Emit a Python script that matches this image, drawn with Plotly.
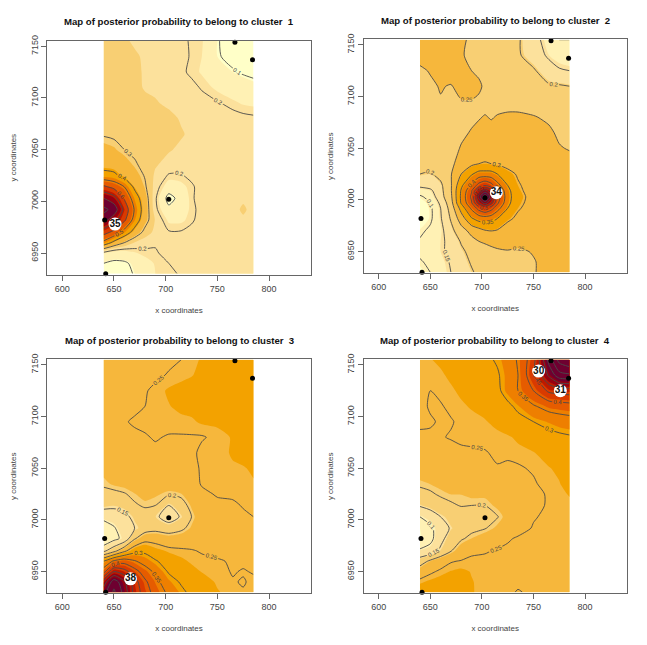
import plotly.graph_objects as go

# Grid nodes of the posterior probability maps
x_nodes = [640, 650, 660, 670, 680, 690, 703, 715, 725, 735, 750, 765, 775, 785]
y_nodes = [6930, 6940, 6950, 6960, 6970, 6982, 6992, 7003, 7014, 7025, 7035,
           7050, 7065, 7080, 7095, 7110, 7125, 7140, 7155]
# Cluster 2 has a sharp peak, so it gets extra nodes around it
x_nodes_2 = [640, 650, 660, 670, 680, 690, 697, 703, 709, 715, 725, 735, 750, 765, 775, 785]
y_nodes_2 = [6930, 6940, 6950, 6960, 6970, 6982, 6992, 6997, 7003, 7009, 7014, 7025,
             7035, 7050, 7065, 7080, 7095, 7110, 7125, 7140, 7155]

prob_1 = [
    [.06, .06, .08, .105, .14, .175, .19, .205, .215, .22, .225, .23, .23, .23],
    [.10, .085, .09, .115, .15, .18, .20, .215, .22, .225, .23, .23, .23, .23],
    [.18, .14, .14, .17, .19, .195, .215, .225, .225, .23, .23, .235, .23, .23],
    [.47, .37, .30, .24, .215, .205, .215, .22, .225, .23, .235, .24, .24, .235],
    [.64, .57, .46, .36, .275, .23, .205, .205, .22, .23, .235, .235, .24, .235],
    [.84, .74, .62, .46, .335, .24, .165, .165, .19, .225, .235, .235, .24, .235],
    [.93, .86, .67, .49, .35, .215, .12, .145, .185, .22, .235, .235, .25, .235],
    [.80, .74, .59, .45, .34, .21, .07, .13, .19, .23, .235, .235, .24, .235],
    [.62, .57, .50, .38, .31, .225, .145, .16, .19, .225, .235, .235, .235, .235],
    [.43, .42, .37, .335, .295, .235, .195, .195, .215, .23, .235, .235, .235, .235],
    [.37, .36, .34, .31, .28, .25, .225, .22, .225, .23, .235, .235, .235, .235],
    [.33, .32, .30, .285, .265, .26, .25, .235, .23, .23, .23, .23, .23, .23],
    [.295, .29, .285, .28, .275, .27, .265, .25, .235, .225, .225, .225, .225, .22],
    [.29, .285, .28, .275, .27, .265, .26, .24, .23, .225, .22, .22, .215, .21],
    [.285, .28, .275, .27, .26, .25, .235, .23, .225, .22, .205, .185, .17, .165],
    [.28, .275, .27, .26, .24, .235, .23, .225, .215, .195, .165, .14, .125, .115],
    [.28, .275, .27, .255, .24, .235, .23, .21, .19, .17, .135, .105, .095, .09],
    [.28, .275, .26, .25, .24, .235, .23, .215, .195, .175, .105, .085, .075, .07],
    [.27, .26, .25, .24, .235, .23, .225, .21, .195, .18, .105, .07, .06, .06],
]

prob_2 = [
    [.07, .10, .125, .15, .175, .195, .21, .22, .225, .23, .235, .24, .248, .26, .255, .26],
    [.095, .11, .13, .155, .18, .205, .215, .225, .23, .235, .24, .245, .248, .26, .265, .26],
    [.11, .12, .14, .165, .19, .215, .225, .235, .24, .245, .248, .245, .252, .265, .27, .27],
    [.105, .125, .14, .165, .205, .235, .25, .255, .26, .262, .262, .26, .265, .27, .275, .275],
    [.09, .11, .135, .185, .23, .265, .28, .295, .30, .295, .275, .275, .27, .27, .27, .27],
    [.05, .09, .145, .205, .275, .345, .37, .375, .37, .35, .31, .29, .275, .27, .27, .27],
    [.055, .09, .15, .22, .32, .41, .47, .50, .47, .42, .35, .305, .28, .275, .27, .27],
    [.06, .10, .16, .23, .355, .445, .56, .62, .56, .46, .365, .31, .285, .275, .27, .265],
    [.09, .12, .18, .24, .36, .46, .62, .75, .62, .48, .37, .315, .285, .275, .27, .265],
    [.13, .14, .185, .245, .355, .445, .56, .62, .56, .46, .365, .31, .28, .275, .27, .265],
    [.16, .17, .19, .245, .34, .41, .47, .50, .47, .42, .35, .305, .28, .27, .27, .265],
    [.20, .195, .215, .247, .30, .345, .37, .37, .37, .35, .315, .295, .275, .27, .265, .265],
    [.21, .215, .225, .24, .27, .29, .30, .305, .30, .295, .285, .275, .27, .265, .26, .26],
    [.225, .225, .23, .24, .252, .26, .265, .265, .265, .265, .265, .265, .26, .255, .252, .248],
    [.235, .235, .235, .24, .245, .252, .258, .26, .26, .26, .26, .26, .26, .255, .245, .24],
    [.24, .24, .24, .24, .24, .245, .248, .252, .248, .252, .255, .255, .252, .245, .24, .235],
    [.248, .248, .248, .245, .248, .248, .245, .24, .24, .24, .24, .24, .235, .225, .215, .21],
    [.24, .245, .252, .248, .26, .262, .255, .245, .24, .235, .235, .225, .225, .205, .205, .20],
    [.245, .252, .26, .265, .262, .25, .245, .24, .24, .235, .23, .22, .205, .175, .155, .15],
    [.26, .255, .262, .265, .252, .245, .24, .24, .235, .23, .22, .205, .18, .14, .125, .115],
    [.265, .265, .265, .262, .255, .245, .24, .235, .23, .225, .215, .205, .17, .125, .10, .10],
]

prob_3 = [
    [.58, .66, .58, .48, .425, .38, .34, .31, .29, .28, .265, .255, .252, .252],
    [.52, .63, .56, .47, .41, .365, .32, .295, .28, .275, .26, .252, .248, .255],
    [.38, .50, .47, .42, .375, .34, .295, .275, .27, .262, .258, .248, .252, .248],
    [.30, .36, .38, .355, .33, .305, .28, .268, .26, .255, .252, .248, .245, .242],
    [.14, .185, .24, .285, .29, .272, .26, .255, .252, .248, .245, .24, .24, .24],
    [.05, .085, .115, .195, .235, .235, .225, .23, .235, .24, .24, .24, .24, .24],
    [.06, .095, .13, .15, .175, .185, .175, .19, .215, .23, .235, .235, .24, .24],
    [.12, .125, .135, .165, .18, .16, .125, .155, .20, .235, .24, .24, .245, .25],
    [.165, .16, .17, .195, .205, .20, .15, .18, .215, .24, .245, .245, .252, .255],
    [.19, .19, .197, .21, .22, .215, .205, .21, .23, .245, .252, .255, .258, .26],
    [.205, .215, .22, .225, .23, .23, .225, .23, .24, .252, .255, .252, .26, .262],
    [.22, .23, .235, .24, .24, .24, .24, .24, .245, .252, .26, .262, .262, .265],
    [.23, .235, .24, .24, .245, .245, .245, .245, .245, .255, .26, .264, .268, .27],
    [.235, .24, .24, .245, .248, .252, .248, .248, .248, .248, .255, .265, .272, .275],
    [.24, .245, .248, .253, .255, .255, .258, .258, .26, .266, .268, .27, .275, .28],
    [.24, .24, .245, .245, .25, .255, .262, .268, .27, .272, .275, .278, .28, .285],
    [.235, .24, .24, .245, .248, .255, .266, .27, .272, .275, .28, .285, .285, .285],
    [.225, .23, .235, .24, .24, .245, .252, .258, .262, .268, .28, .285, .285, .285],
    [.22, .225, .23, .235, .24, .24, .245, .25, .258, .265, .28, .285, .285, .285],
]

prob_4 = [
    [.275, .275, .275, .272, .27, .262, .257, .256, .255, .248, .255, .257, .257, .258],
    [.258, .265, .27, .27, .268, .262, .256, .255, .255, .255, .255, .257, .258, .258],
    [.23, .245, .255, .262, .265, .26, .256, .255, .255, .255, .256, .258, .258, .258],
    [.175, .21, .235, .248, .252, .255, .255, .255, .255, .255, .256, .258, .258, .258],
    [.11, .12, .16, .198, .23, .245, .248, .252, .255, .255, .256, .257, .257, .258],
    [.05, .085, .135, .175, .195, .21, .225, .24, .247, .253, .256, .257, .257, .258],
    [.055, .09, .125, .155, .175, .19, .198, .215, .23, .24, .252, .256, .257, .258],
    [.10, .12, .15, .17, .18, .185, .19, .198, .22, .235, .248, .255, .257, .258],
    [.155, .17, .185, .195, .202, .20, .20, .215, .23, .24, .245, .252, .255, .258],
    [.19, .195, .205, .21, .21, .215, .215, .225, .235, .24, .245, .252, .258, .262],
    [.205, .21, .215, .22, .225, .225, .23, .235, .24, .245, .248, .256, .26, .27],
    [.225, .23, .23, .235, .235, .235, .24, .248, .248, .248, .252, .26, .265, .27],
    [.235, .235, .24, .24, .245, .245, .248, .255, .252, .255, .26, .27, .275, .275],
    [.245, .247, .248, .252, .255, .258, .258, .255, .258, .265, .275, .285, .29, .295],
    [.255, .252, .248, .248, .255, .255, .259, .268, .28, .285, .30, .315, .325, .33],
    [.255, .248, .248, .255, .258, .263, .27, .28, .29, .31, .345, .37, .375, .38],
    [.252, .25, .255, .258, .265, .275, .282, .29, .32, .35, .40, .46, .47, .475],
    [.26, .26, .258, .265, .275, .28, .285, .295, .32, .35, .44, .56, .63, .64],
    [.258, .26, .265, .275, .28, .285, .29, .305, .325, .355, .43, .62, .72, .75],
]

# Locations of the sampled sites
site_x = [767, 784, 703, 641, 642]
site_y = [7154, 7137, 7002, 6982, 6930]

# Numbered individuals shown on each map
label_x = [[651], [714], [666], [755, 776]]
label_y = [[6978], [7007], [6943], [7144, 7125]]
label_text = [["35"], ["34"], ["38"], ["30", "31"]]

band_colors = ["#FFFFC8", "#FFF1B4", "#FCE19C", "#F8CF73", "#F6B73C", "#F3A200",
               "#EE7F00", "#E65C00", "#D93A00", "#BE1A00", "#960012", "#6E0030"]

panel_x = [x_nodes, x_nodes_2, x_nodes, x_nodes]
panel_y = [y_nodes, y_nodes_2, y_nodes, y_nodes]
panel_z = [prob_1, prob_2, prob_3, prob_4]
band_start = [.105, .085, .055, .055]
band_step = [.07, .055, .052, .0515]
line_step = [.1, .05, .05, .05]

# Pixel boxes of the four plotting regions: left, right, top, bottom
boxes = [(47.3, 310.7, 40.7, 274.7), (363.7, 626.7, 39.3, 273.3),
         (47.3, 310.7, 359.3, 593.3), (363.7, 626.7, 359.3, 593.3)]
title_y = [21, 20, 340, 340]

W, H = 647, 645
ink = "#444444"
font = "Liberation Sans, Arial, sans-serif"
step_scale = [[i / (len(band_colors) - 1), c] for i, c in enumerate(band_colors)]

fig = go.Figure()
annotations = []
for k in range(4):
    xa, ya = f"x{k + 1}" if k else "x", f"y{k + 1}" if k else "y"
    left, right, top, bottom = boxes[k]
    suffix = str(k + 1) if k else ""

    fig.add_trace(go.Contour(
        x=panel_x[k], y=panel_y[k], z=panel_z[k], xaxis=xa, yaxis=ya,
        autocontour=False, showscale=False, hoverinfo="skip",
        colorscale=step_scale,
        contours=dict(coloring="fill", start=band_start[k],
                      end=band_start[k] + band_step[k] * (len(band_colors) - 2),
                      size=band_step[k]),
        line=dict(width=0, smoothing=0.7),
    ))
    fig.add_trace(go.Contour(
        x=panel_x[k], y=panel_y[k], z=panel_z[k], xaxis=xa, yaxis=ya,
        autocontour=False, showscale=False, hoverinfo="skip",
        contours=dict(coloring="none", start=line_step[k], end=.95, size=line_step[k],
                      showlabels=True,
                      labelfont=dict(size=6, color=ink, family=font)),
        line=dict(color="#4a4a4a", width=0.9, smoothing=0.7),
    ))
    fig.add_trace(go.Scatter(
        x=site_x, y=site_y, xaxis=xa, yaxis=ya, mode="markers", cliponaxis=False,
        marker=dict(color="black", size=5), hoverinfo="skip", showlegend=False,
    ))
    fig.add_trace(go.Scatter(
        x=label_x[k], y=label_y[k], text=label_text[k], xaxis=xa, yaxis=ya,
        mode="markers+text", textposition="middle center", cliponaxis=False,
        marker=dict(color="white", size=13),
        textfont=dict(color="#111111", size=10, family=font, weight="bold"),
        hoverinfo="skip", showlegend=False,
    ))

    axis_style = dict(showline=True, mirror=True, linecolor="#666666", linewidth=1,
                      showgrid=False, zeroline=False, ticks="outside", ticklen=5,
                      tickcolor="#666666", tickwidth=1, automargin=False,
                      tickfont=dict(size=9, color=ink, family=font))
    fig.layout[f"xaxis{suffix}"] = dict(
        axis_style, domain=[left / W, right / W], range=[585.5, 840.3],
        tickvals=[600, 650, 700, 750, 800], anchor=ya,
        title=dict(text="x coordinates", standoff=14,
                   font=dict(size=8, color=ink, family=font)),
    )
    fig.layout[f"yaxis{suffix}"] = dict(
        axis_style, domain=[1 - bottom / H, 1 - top / H], range=[6929, 7155.4],
        tickvals=[6950, 7000, 7050, 7100, 7150], tickangle=-90, anchor=xa,
        title=dict(text="y coordinates", standoff=11,
                   font=dict(size=8, color=ink, family=font)),
    )
    annotations.append(dict(
        text=f"Map of posterior probability to belong to cluster  {k + 1}",
        xref="paper", yref="paper", x=(left + right) / 2 / W, y=1 - title_y[k] / H,
        xanchor="center", yanchor="middle", showarrow=False,
        font=dict(size=9.6, color="#111111", family=font, weight="bold"),
    ))

fig.update_layout(width=W, height=H, autosize=False, showlegend=False,
                  margin=dict(l=0, r=0, t=0, b=0), paper_bgcolor="white",
                  plot_bgcolor="white", annotations=annotations)
fig.write_html("out.html")
